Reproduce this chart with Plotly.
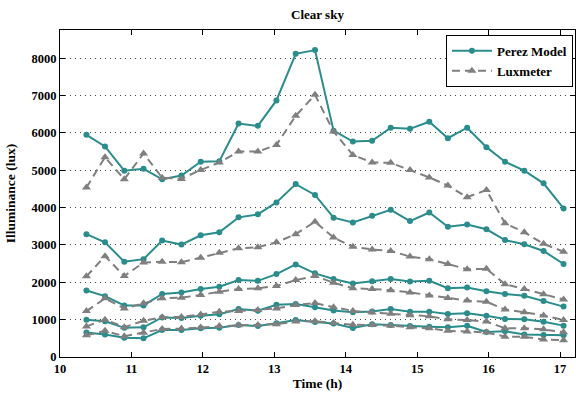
import plotly.graph_objects as go

times = [10.37, 10.63, 10.90, 11.17, 11.43, 11.70, 11.97, 12.23, 12.50, 12.77, 13.03, 13.30, 13.57,
         13.83, 14.10, 14.37, 14.63, 14.90, 15.17, 15.43, 15.70, 15.97, 16.23, 16.50, 16.77, 17.05]

perez_1 = [5950, 5640, 4990, 5040, 4760, 4860, 5230, 5240, 6250, 6190, 6870, 8120, 8220,
           6060, 5770, 5790, 6140, 6110, 6300, 5860, 6140, 5620, 5230, 4990, 4650, 3980]
lux_1 = [4540, 5350, 4760, 5450, 4800, 4770, 5010, 5210, 5500, 5500, 5680, 6460, 7020,
         6040, 5410, 5210, 5200, 5010, 4810, 4590, 4280, 4470, 3580, 3340, 3030, 2820]

perez_2 = [3290, 3070, 2550, 2620, 3120, 3010, 3260, 3340, 3740, 3820, 4140, 4630, 4340,
           3730, 3600, 3780, 3940, 3640, 3870, 3490, 3550, 3420, 3130, 3020, 2840, 2490]
lux_2 = [2160, 2700, 2170, 2530, 2550, 2540, 2660, 2790, 2910, 2940, 3070, 3290, 3620,
         3200, 2950, 2880, 2840, 2690, 2620, 2490, 2350, 2360, 1950, 1820, 1680, 1540]

perez_3 = [1780, 1630, 1380, 1380, 1690, 1730, 1820, 1880, 2060, 2040, 2220, 2480, 2240,
           2090, 1970, 2030, 2090, 2020, 2040, 1840, 1860, 1760, 1690, 1640, 1500, 1350]
lux_3 = [1230, 1570, 1300, 1440, 1570, 1590, 1660, 1750, 1820, 1840, 1900, 2060, 2170,
         1990, 1840, 1820, 1790, 1730, 1650, 1580, 1510, 1480, 1270, 1200, 1110, 990]

perez_4 = [1000, 955, 780, 795, 1060, 1045, 1107, 1143, 1285, 1240, 1400, 1420, 1330,
           1245, 1200, 1220, 1285, 1215, 1215, 1150, 1170, 1107, 1020, 1010, 945, 840]
lux_4 = [820, 1000, 800, 970, 1065, 1070, 1140, 1210, 1230, 1260, 1300, 1390, 1445,
         1335, 1235, 1190, 1160, 1115, 1090, 1010, 990, 950, 770, 770, 740, 660]

perez_5 = [655, 600, 517, 500, 720, 725, 768, 785, 857, 830, 902, 990, 935,
           895, 775, 875, 857, 830, 812, 800, 835, 670, 690, 600, 590, 580]
lux_5 = [580, 700, 555, 650, 750, 760, 790, 830, 850, 860, 880, 950, 960,
         910, 865, 855, 840, 795, 770, 700, 680, 660, 545, 540, 470, 450]

perez_series = [perez_1, perez_2, perez_3, perez_4, perez_5]
lux_series = [lux_1, lux_2, lux_3, lux_4, lux_5]

x_ticks = [10, 11, 12, 13, 14, 15, 16, 17]
y_ticks = [0, 1000, 2000, 3000, 4000, 5000, 6000, 7000, 8000]

TEAL = "#2b8c8c"
GRAY = "#7f7f7f"

fig = go.Figure()

for i, ys in enumerate(perez_series):
    fig.add_trace(go.Scatter(
        x=times, y=ys, mode="lines+markers", name="Perez Model",
        legendgroup="perez", showlegend=(i == 0),
        line=dict(color=TEAL, width=2),
        marker=dict(symbol="circle", size=6, color=TEAL),
    ))

for i, ys in enumerate(lux_series):
    fig.add_trace(go.Scatter(
        x=times, y=ys, mode="lines+markers", name="Luxmeter",
        legendgroup="lux", showlegend=(i == 0),
        line=dict(color=GRAY, width=2, dash="8px,5px"),
        marker=dict(symbol="triangle-up", size=8, color=GRAY),
    ))

fig.update_layout(
    width=576, height=396,
    margin=dict(l=60, r=1, t=30, b=39),
    paper_bgcolor="white", plot_bgcolor="white",
    font=dict(family="Liberation Serif", size=12, color="black", weight="bold"),
    title=dict(text="Clear sky", xref="paper", x=0.5, xanchor="center", y=0.975, yanchor="top",
               font=dict(size=13, weight="bold")),
    showlegend=True,
    legend=dict(x=0.996, xanchor="right", y=0.985, yanchor="top",
                bgcolor="white", bordercolor="black", borderwidth=1,
                font=dict(size=13, weight="bold"),
                tracegroupgap=0, itemwidth=40),
)

fig.update_xaxes(
    range=[10, 17.21], tickvals=x_ticks, ticktext=[str(t) for t in x_ticks],
    showline=True, linecolor="black", linewidth=1, mirror="ticks",
    ticks="inside", ticklen=5, tickcolor="black",
    showgrid=False, zeroline=False,
    title=dict(text="Time (h)", standoff=3, font=dict(size=13.5, weight="bold")),
    tickfont=dict(size=12.5, weight="bold"),
)
fig.update_yaxes(
    range=[0, 8757], tickvals=y_ticks, ticktext=[str(t) for t in y_ticks],
    showline=True, linecolor="black", linewidth=1, mirror="ticks",
    ticks="inside", ticklen=5, tickcolor="black",
    showgrid=True, gridcolor="#444444", griddash="1px,4px", gridwidth=1,
    zeroline=False,
    title=dict(text="Illuminance (lux)", standoff=12, font=dict(size=13.5, weight="bold")),
    tickfont=dict(size=12.5, weight="bold"),
)

fig.write_html("out.html")
